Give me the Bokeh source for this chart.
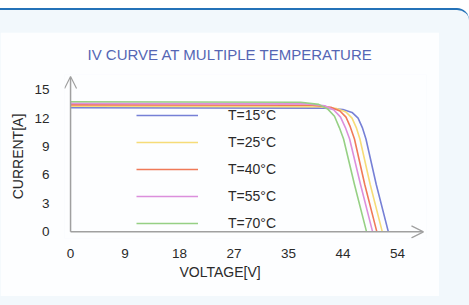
from bokeh.plotting import figure
from bokeh.models import Range1d, Arrow, OpenHead, Legend, LegendItem, FixedTicker, Spacer, Title
from bokeh.layouts import column
from bokeh.embed import file_html
from bokeh.resources import INLINE

# ---- data ----
series_labels = ["T=15°C", "T=25°C", "T=40°C", "T=55°C", "T=70°C"]
series_colors = ["#7680d6", "#f6dc78", "#f07a58", "#dc8fdc", "#96d084"]

voltage_15 = [0, 42, 45, 46.5, 47.5, 48.2, 48.8, 50.5, 52.5]
current_15 = [13.1, 13.05, 12.9, 12.6, 12.0, 11.0, 9.8, 5.0, 0]
voltage_25 = [0, 41, 44, 45.5, 46.5, 47.2, 47.8, 49.5, 51.5]
current_25 = [13.25, 13.2, 13.0, 12.65, 12.0, 11.0, 9.8, 5.0, 0]
voltage_40 = [0, 40, 43, 44.5, 45.5, 46.2, 46.9, 48.6, 50.6]
current_40 = [13.4, 13.35, 13.15, 12.75, 12.1, 11.1, 9.8, 5.0, 0]
voltage_55 = [0, 39, 42, 43.5, 44.6, 45.4, 46.1, 47.9, 49.9]
current_55 = [13.55, 13.5, 13.3, 12.85, 12.1, 11.0, 9.8, 5.0, 0]
voltage_70 = [0, 38, 41, 42.5, 43.6, 44.4, 45.1, 46.9, 48.9]
current_70 = [13.72, 13.68, 13.45, 12.95, 12.2, 11.0, 9.8, 5.0, 0]

x_tick_values = [0, 9, 18, 27, 36, 45, 54]
x_tick_labels = ["0", "9", "18", "27", "35", "44", "54"]
y_tick_values = [0, 3, 6, 9, 12, 15]
y_tick_labels = ["0", "3", "6", "9", "12", "15"]

title_text = "IV CURVE AT MULTIPLE TEMPERATURE"
x_title = "VOLTAGE[V]"
y_title = "CURRENT[A]"

X_MIN, X_MAX = -1.0, 58.8
Y_MIN, Y_MAX = -0.7, 16.6
X_ARROW = 58.3
Y_ARROW = 16.4

FONT = "Liberation Sans"
TEXT_COLOR = "#2a2a2a"
AXIS_COLOR = "#a0a0a0"
PANEL = "#fdfeff"
OUTER = "#f2f8fc"

p = figure(width=439, height=264, output_backend="svg", toolbar_location=None,
           x_range=Range1d(X_MIN, X_MAX), y_range=Range1d(Y_MIN, Y_MAX),
           min_border_left=64, min_border_right=13, min_border_top=41, min_border_bottom=58,
           background_fill_color=PANEL, border_fill_color=PANEL, outline_line_color=None,
           title=title_text)

p.title.align = "left"
p.title.offset = 23
p.title.standoff = 23
p.title.text_font = FONT
p.title.text_font_size = "15px"
p.title.text_font_style = "normal"
p.title.text_color = "#5566b4"

p.xgrid.visible = False
p.ygrid.visible = False

series = [(voltage_15, current_15), (voltage_25, current_25), (voltage_40, current_40),
          (voltage_55, current_55), (voltage_70, current_70)]
renderers = []
for (v, i), c in zip(series, series_colors):
    r = p.line(v, i, line_color=c, line_width=1.6, line_join="round")
    renderers.append(r)

for ax in (p.xaxis[0], p.yaxis[0]):
    ax.axis_line_color = None
    ax.major_tick_line_color = None
    ax.minor_tick_line_color = None
    ax.major_label_text_font = FONT
    ax.major_label_text_font_size = "13.5px"
    ax.major_label_text_color = TEXT_COLOR
    ax.axis_label_text_font = FONT
    ax.axis_label_text_font_size = "14px"
    ax.axis_label_text_font_style = "normal"
    ax.axis_label_text_color = TEXT_COLOR

p.xaxis.ticker = FixedTicker(ticks=x_tick_values)
p.xaxis.major_label_overrides = dict(zip(x_tick_values, x_tick_labels))
p.xaxis.major_label_standoff = 4
p.yaxis.ticker = FixedTicker(ticks=y_tick_values)
p.yaxis.major_label_overrides = dict(zip(y_tick_values, y_tick_labels))
p.yaxis.major_label_standoff = 9
p.yaxis.axis_label = y_title
p.yaxis.axis_label_standoff = 5

# x axis title as a left-aligned title below the axis
p.add_layout(Title(text=x_title, align="left", offset=115, standoff=2, text_font=FONT,
                   text_font_size="14px", text_font_style="normal", text_color=TEXT_COLOR), "below")

# axis arrows
p.add_layout(Arrow(x_start=0, y_start=0, x_end=X_ARROW, y_end=0, line_color=AXIS_COLOR, line_width=1.5,
                   end=OpenHead(size=12, line_color=AXIS_COLOR, line_width=1.2)))
p.add_layout(Arrow(x_start=0, y_start=0, x_end=0, y_end=Y_ARROW, line_color=AXIS_COLOR, line_width=1.5,
                   end=OpenHead(size=12, line_color=AXIS_COLOR, line_width=1.2)))

legend = Legend(items=[LegendItem(label=l, renderers=[r]) for l, r in zip(series_labels, renderers)],
                location=(72, 4), glyph_width=62, glyph_height=22, label_height=22, spacing=5,
                label_standoff=30, padding=0, margin=0, border_line_color=None,
                background_fill_alpha=0, label_text_font=FONT, label_text_font_size="14px",
                label_text_color=TEXT_COLOR)
p.add_layout(legend)

card = column(Spacer(width=469, height=22), p, width=469, height=297,
              styles={"background-color": OUTER, "border-top": "2px solid #2472b8",
                      "border-top-right-radius": "12px"})
layout = column(Spacer(width=469, height=8), card, width=469, height=305)

open("out.html", "w").write(file_html(layout, INLINE))
